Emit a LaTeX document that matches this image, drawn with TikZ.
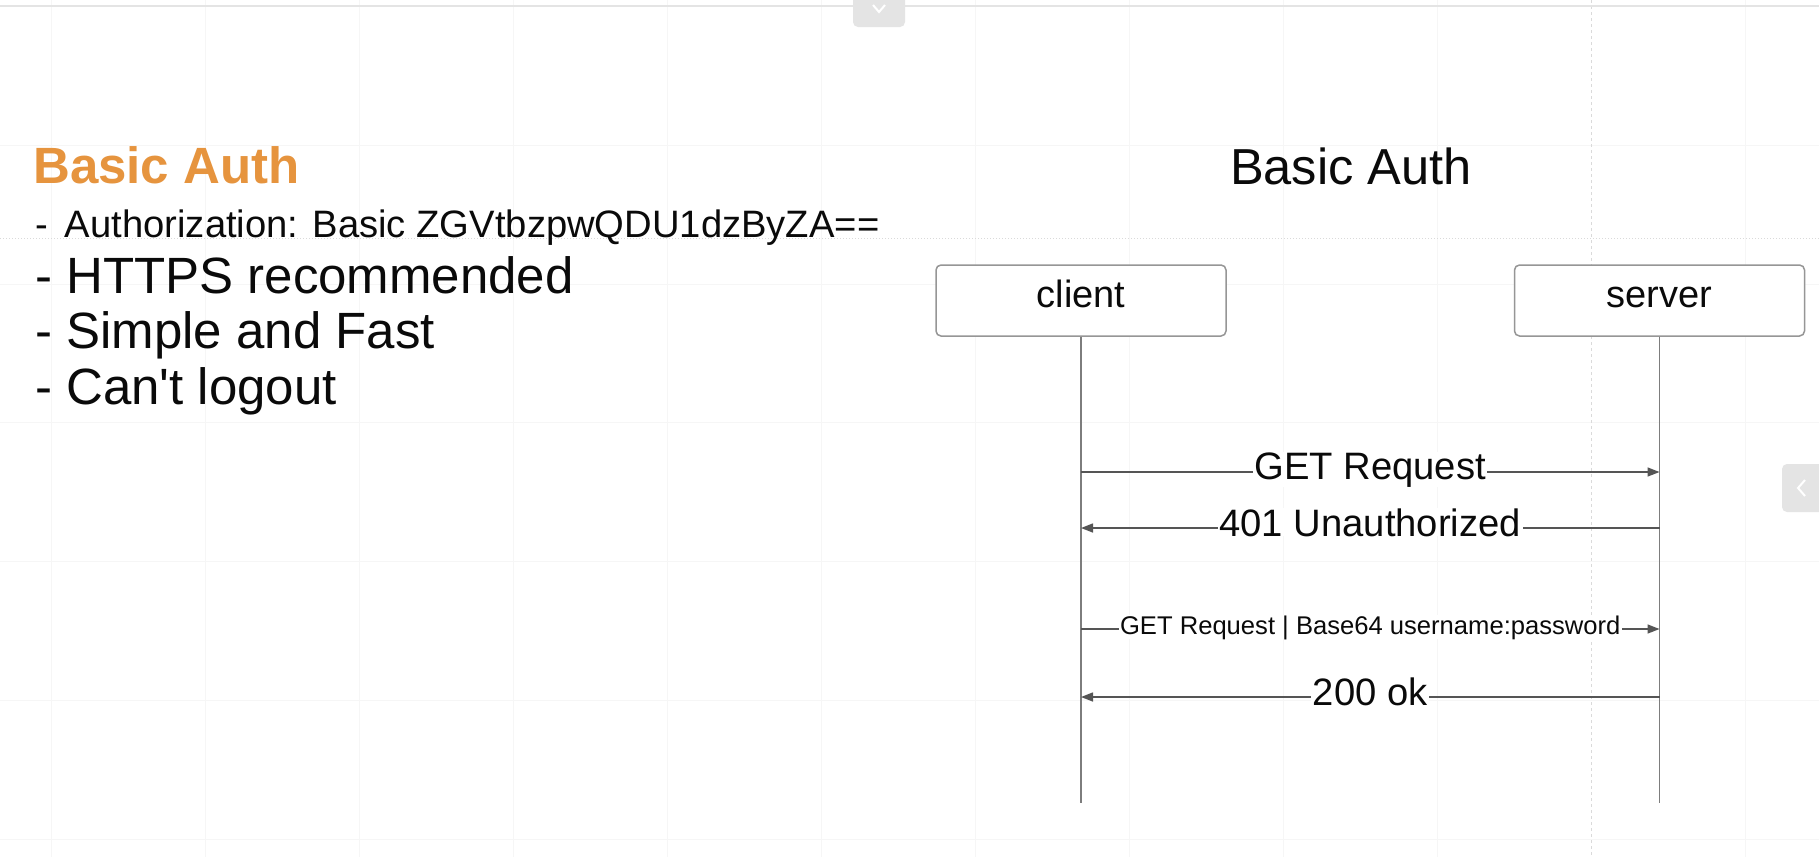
\documentclass[tikz,border=0pt]{standalone}
\usepackage{fontspec}
\setmainfont{Liberation Sans}
\newfontfamily\arialf{Liberation Sans}
\usetikzlibrary{arrows.meta}
\definecolor{orng}{RGB}{230,148,62}
\definecolor{gridc}{RGB}{246,246,246}
\definecolor{breakc}{RGB}{218,218,218}
\definecolor{boxgray}{RGB}{150,150,150}
\definecolor{lifec}{RGB}{125,125,125}
\definecolor{msgc}{RGB}{85,85,85}
\definecolor{tabgray}{RGB}{228,228,228}
\definecolor{inkc}{RGB}{10,10,10}
\newcommand{\wtxt}[2]{{\arialf\fontsize{#1}{#1}\selectfont #2}}
\tikzset{
  txt/.style={inner sep=0pt, anchor=base west, text=inkc},
  ttl/.style={inner sep=0pt, anchor=base, text=inkc},
  actor/.style={draw=boxgray, line width=1.5pt, rounded corners=5pt, fill=white,
    minimum width=290pt, minimum height=71pt, inner sep=0pt,
    text height=23pt, text depth=10pt, text=inkc},
  life/.style={draw=lifec, line width=1.5pt},
  msg/.style={draw=msgc, line width=1.5pt, -{Triangle[length=12pt,width=9pt]}},
  lbl/.style={midway, anchor=base, fill=white, inner xsep=1.5pt, inner ysep=0pt, text=inkc}
}
\begin{document}
\begin{tikzpicture}[x=1pt,y=-1pt]
\useasboundingbox (0,0) rectangle (1819,857);
\fill[white] (0,0) rectangle (1819,857);
% faint canvas grid
\foreach \gx in {51,205,359,513,667,821,975,1129,1283,1437,1745}
  \draw[gridc, line width=1pt] (\gx,0) -- (\gx,857);
\foreach \gy in {145,284,422,561,700,839}
  \draw[gridc, line width=1pt] (0,\gy) -- (1819,\gy);
% page break lines
\draw[breakc, line width=1pt, dotted] (0,238) -- (1819,238);
\draw[breakc, line width=1pt, dashed] (1591,0) -- (1591,857);
\draw[tabgray, line width=1.5pt] (0,6) -- (1819,6);
% UI tabs
\fill[tabgray, rounded corners=5pt] (853,-10) rectangle (905,27);
\draw[white, line width=2pt] (873,5) -- (879,12) -- (885,5);
\fill[tabgray, rounded corners=5pt] (1782,464) rectangle (1835,512);
\draw[white, line width=2pt] (1805,480) -- (1798,488) -- (1805,496);

% left text
\node[txt, text=orng] (t0) at (33,183) {{\arialf\bfseries\fontsize{51}{51}\selectfont Basic Auth}};
\node[txt] (t1) at (35,237) {\wtxt{38.2}{-\hspace{17pt}Authorization: Basic ZGVtbzpwQDU1dzByZA==}};
\node[txt] (t2) at (35,293) {\wtxt{51}{- HTTPS recommended}};
\node[txt] (t3) at (35,348) {\wtxt{51}{- Simple and Fast}};
\node[txt] (t4) at (35,404) {\wtxt{51}{- Can't logout}};

% right diagram
\node[ttl] (title) at (1351,184) {\wtxt{50.6}{Basic Auth}};
\node[actor] (client) at (1081,300.5) {\wtxt{38}{client}};
\node[actor] (server) at (1659.5,300.5) {\wtxt{38}{server}};
\coordinate (cEnd) at (1081,803);
\coordinate (sEnd) at (1659.5,803);
\draw[life] (client.south) -- (cEnd);
\draw[life] (server.south) -- (sEnd);

\coordinate (c1) at (1081,472);  \coordinate (s1) at (1659.5,472);
\coordinate (c2) at (1081,528);  \coordinate (s2) at (1659.5,528);
\coordinate (c3) at (1081,629);  \coordinate (s3) at (1659.5,629);
\coordinate (c4) at (1081,697);  \coordinate (s4) at (1659.5,697);

\draw[msg] (c1) -- (s1) node[lbl, yshift=-7pt] (m1) {\wtxt{38.2}{GET Request}};
\draw[msg] (s2) -- (c2) node[lbl, yshift=-8pt] (m2) {\wtxt{38.2}{401 Unauthorized}};
\draw[msg] (c3) -- (s3) node[lbl, yshift=-5pt] (m3) {\wtxt{25.6}{GET Request | Base64 username:password}};
\draw[msg] (s4) -- (c4) node[lbl, yshift=-8pt] (m4) {\wtxt{38.2}{200 ok}};
\end{tikzpicture}
\end{document}
